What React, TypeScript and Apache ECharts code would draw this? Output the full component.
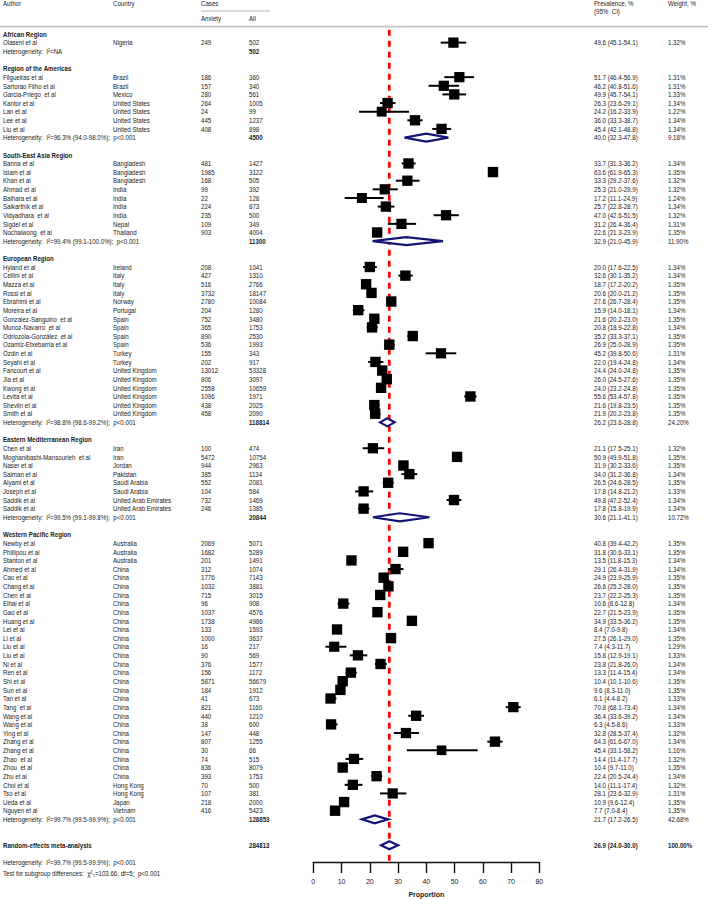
import React, { useEffect, useRef } from "react";
import * as echarts from "echarts";

// ---------------- DATA ----------------
const regionNames = [
  "African Region",
  "Region of the Americas",
  "South-East Asia Region",
  "European Region",
  "Eastern Mediterranean Region",
  "Western Pacific Region",
];
const regionHetText = [
  "Heterogeneity:  I²=NA",
  "Heterogeneity:  I²=96.3% (94.0-98.0%);  p<0.001",
  "Heterogeneity:  I²=99.4% (99.1-100.0%);  p<0.001",
  "Heterogeneity:  I²=98.8% (98.6-99.2%);  p<0.001",
  "Heterogeneity:  I²=99.5% (99.1-99.8%);  p<0.001",
  "Heterogeneity:  I²=99.7% (99.5-99.9%);  p<0.001",
];
const regionTotals = [502, 4500, 11300, 118814, 20844, 128853];
const regionPrev = [null, 40.0, 32.9, 26.2, 30.6, 21.7];
const regionLower = [null, 32.3, 21.0, 23.6, 21.1, 17.2];
const regionUpper = [null, 47.8, 45.9, 28.8, 41.1, 26.5];
const regionWeight = [null, 9.18, 11.9, 24.2, 10.72, 42.68];

const studyRegion = [
  0,
  1, 1, 1, 1, 1, 1, 1,
  2, 2, 2, 2, 2, 2, 2, 2, 2,
  3, 3, 3, 3, 3, 3, 3, 3, 3, 3, 3, 3, 3, 3, 3, 3, 3, 3,
  4, 4, 4, 4, 4, 4, 4, 4,
  5, 5, 5, 5, 5, 5, 5, 5, 5, 5, 5, 5, 5, 5, 5, 5, 5, 5, 5, 5, 5, 5, 5, 5, 5, 5, 5, 5, 5, 5, 5, 5,
];
const studyAuthor = [
  "Olaseni et al",
  "Filgueiras et al", "Sartorao Filho et al", "Garcia-Priego  et al", "Kantor et al", "Lan et al", "Lee et al", "Liu et al",
  "Banna et al", "Islam et al", "Khan et al", "Ahmad et al", "Balhara et al", "Saikarthik et al", "Vidyadhara  et al", "Sigdel et al", "Nochaiwong  et al",
  "Hyland et al", "Cellini et al", "Mazza et al", "Rossi et al", "Ebrahimi et al", "Moreira et al", "González-Sanguino  et al", "Munoz-Navarro  et al", "Odriozola-González  et al", "Ozamiz-Etxebarria et al", "Özdin et al", "Seyahi et al", "Fancourt et al", "Jia et al", "Kwong et al", "Levita et al", "Shevlin et al", "Smith et al",
  "Chen et al", "Moghanibashi-Mansourieh  et al", "Naser et al", "Salman et al", "Alyami et al", "Joseph et al", "Saddik et al", "Saddik et al",
  "Newby et al", "Phillipou et al", "Stanton et al", "Ahmed et al", "Cao et al", "Chang et al", "Chen et al", "Elhai et al", "Gao et al", "Huang et al", "Lei et al", "Li et al", "Liu et al", "Liu et al", "Ni et al", "Ren et al", "Shi et al", "Sun et al", "Tan et al", "Tang  et al", "Wang et al", "Wang et al", "Ying et al", "Zhang et al", "Zhang et al", "Zhao  et al", "Zhou  et al", "Zhu et al", "Choi et al", "Tso et al", "Ueda et al", "Nguyen et al",
];
const studyCountry = [
  "Nigeria",
  "Brazil", "Brazil", "Mexico", "United States", "United States", "United States", "United States",
  "Bangladesh", "Bangladesh", "Bangladesh", "India", "India", "India", "India", "Nepal", "Thailand",
  "Ireland", "Italy", "Italy", "Italy", "Norway", "Portugal", "Spain", "Spain", "Spain", "Spain", "Turkey", "Turkey", "United Kingdom", "United Kingdom", "United Kingdom", "United Kingdom", "United Kingdom", "United Kingdom",
  "Iran", "Iran", "Jordan", "Pakistan", "Saudi Arabia", "Saudi Arabia", "United Arab Emirates", "United Arab Emirates",
  "Australia", "Australia", "Australia", "China", "China", "China", "China", "China", "China", "China", "China", "China", "China", "China", "China", "China", "China", "China", "China", "China", "China", "China", "China", "China", "China", "China", "China", "China", "Hong Kong", "Hong Kong", "Japan", "Vietnam",
];
const anxietyCases = [
  249,
  186, 157, 280, 264, 24, 445, 408,
  481, 1985, 168, 99, 22, 224, 235, 109, 903,
  208, 427, 516, 3732, 2780, 204, 752, 365, 890, 536, 155, 202, 13012, 806, 2558, 1096, 438, 458,
  100, 5472, 944, 385, 552, 104, 732, 246,
  2069, 1682, 201, 312, 1776, 1032, 715, 96, 1037, 1738, 133, 1000, 16, 90, 376, 156, 5871, 184, 41, 821, 440, 38, 147, 807, 30, 74, 836, 393, 70, 107, 218, 416,
];
const totalCases = [
  502,
  360, 340, 561, 1005, 99, 1237, 898,
  1427, 3122, 505, 392, 128, 873, 500, 349, 4004,
  1041, 1310, 2766, 18147, 10084, 1280, 3480, 1753, 2530, 1993, 343, 917, 53328, 3097, 10659, 1971, 2025, 2090,
  474, 10754, 2963, 1134, 2081, 584, 1469, 1385,
  5071, 5289, 1491, 1074, 7143, 3881, 3015, 908, 4576, 4986, 1593, 3637, 217, 569, 1577, 1172, 56679, 1912, 673, 1160, 1210, 600, 448, 1255, 66, 515, 8079, 1753, 500, 381, 2000, 5423,
];
const prevalence = [
  49.6,
  51.7, 46.2, 49.9, 26.3, 24.2, 36.0, 45.4,
  33.7, 63.6, 33.3, 25.3, 17.2, 25.7, 47.0, 31.2, 22.6,
  20.0, 32.6, 18.7, 20.6, 27.6, 15.9, 21.6, 20.8, 35.2, 26.9, 45.2, 22.0, 24.4, 26.0, 24.0, 55.6, 21.6, 21.9,
  21.1, 50.9, 31.9, 34.0, 26.5, 17.8, 49.8, 17.8,
  40.8, 31.8, 13.5, 29.1, 24.9, 26.6, 23.7, 10.6, 22.7, 34.9, 8.4, 27.5, 7.4, 15.8, 23.8, 13.3, 10.4, 9.6, 6.1, 70.8, 36.4, 6.3, 32.8, 64.3, 45.4, 14.4, 10.4, 22.4, 14.0, 28.1, 10.9, 7.7,
];
const ciLower = [
  45.1,
  46.4, 40.8, 45.7, 23.6, 16.2, 33.3, 42.1,
  31.3, 61.9, 29.2, 21.0, 11.1, 22.8, 42.6, 26.4, 21.3,
  17.6, 30.1, 17.2, 20.0, 26.7, 14.0, 20.2, 18.9, 33.3, 25.0, 39.8, 19.4, 24.0, 24.5, 23.2, 53.4, 19.8, 20.2,
  17.5, 49.9, 30.2, 31.2, 24.6, 14.8, 47.2, 15.8,
  39.4, 30.6, 11.8, 26.4, 23.9, 25.2, 22.2, 8.6, 21.5, 33.5, 7.0, 26.1, 4.3, 12.9, 21.8, 11.4, 10.1, 8.3, 4.4, 68.1, 33.6, 4.5, 28.5, 61.6, 33.1, 11.4, 9.7, 20.5, 11.1, 23.6, 9.6, 7.0,
];
const ciUpper = [
  54.1,
  56.9, 51.6, 54.1, 29.1, 33.9, 38.7, 48.8,
  36.2, 65.3, 37.6, 29.9, 24.9, 28.7, 51.5, 36.4, 23.9,
  22.5, 35.2, 20.2, 21.2, 28.4, 18.1, 23.0, 22.8, 37.1, 28.9, 50.6, 24.8, 24.8, 27.6, 24.8, 57.8, 23.5, 23.8,
  25.1, 51.8, 33.6, 36.8, 28.5, 21.2, 52.4, 19.9,
  42.2, 33.1, 15.3, 31.9, 25.9, 28.0, 25.3, 12.8, 23.9, 36.2, 9.8, 29.0, 11.7, 19.1, 26.0, 15.4, 10.6, 11.0, 8.2, 73.4, 39.2, 8.6, 37.4, 67.0, 58.2, 17.7, 11.0, 24.4, 17.4, 32.9, 12.4, 8.4,
];
const weightPct = [
  1.32,
  1.31, 1.31, 1.33, 1.34, 1.22, 1.34, 1.34,
  1.34, 1.35, 1.32, 1.32, 1.24, 1.34, 1.32, 1.31, 1.35,
  1.34, 1.34, 1.35, 1.35, 1.35, 1.34, 1.35, 1.34, 1.35, 1.35, 1.31, 1.34, 1.35, 1.35, 1.35, 1.35, 1.35, 1.35,
  1.32, 1.35, 1.35, 1.34, 1.35, 1.33, 1.34, 1.34,
  1.35, 1.35, 1.34, 1.34, 1.35, 1.35, 1.35, 1.34, 1.35, 1.35, 1.34, 1.35, 1.29, 1.33, 1.34, 1.34, 1.35, 1.35, 1.33, 1.34, 1.34, 1.33, 1.32, 1.34, 1.16, 1.32, 1.35, 1.34, 1.32, 1.31, 1.35, 1.35,
];

const overallLabel = "Random-effects meta-analysis";
const overallTotal = 284813;
const overallPrev = 26.9;
const overallLower = 24.0;
const overallUpper = 30.0;
const overallWeight = 100.0;
const overallHetText = "Heterogeneity:  I²=99.7% (99.5-99.9%);  p<0.001";
const subgroupTestText = "Test for subgroup differences:  χ²₅=103.66, df=5;  p<0.001";
const axisTicks = [0, 10, 20, 30, 40, 50, 60, 70, 80];
const axisTitle = "Proportion";

// ---------------- LAYOUT ----------------
const W = 708;
const H = 899;
const ROW_H = 8.63;
const Y0 = 34; // pixel centre of slot 0
const PLOT_LEFT = 313.3;
const PLOT_RIGHT = 539.3;
const AXIS_Y = 862;
const FONT = "'Liberation Sans', Arial, sans-serif";
const FS = 7.5;
const SX = 0.82; // horizontal squeeze to mimic a narrow typeface
const COL = { author: 3, country: 113, anx: 201, all: 249, prev: 594, weight: 668 };
const TXT = "#1a1a1a";
const DIAMOND = "#141478";

const fmtCI = (p: number, l: number, u: number) =>
  `${p.toFixed(1)} (${l.toFixed(1)}-${u.toFixed(1)})`;
const fmtW = (w: number) => `${w.toFixed(2)}%`;

type Cell = { x: number; text: string; bold?: boolean };
type Row = { slot: number; cells: Cell[] };

function buildRows() {
  const rows: Row[] = [];
  const squares: number[][] = [];
  const diamonds: number[][] = [];
  let slot = 0;
  regionNames.forEach((name, r) => {
    rows.push({ slot, cells: [{ x: COL.author, text: name, bold: true }] });
    slot++;
    studyRegion.forEach((sr, i) => {
      if (sr !== r) return;
      rows.push({
        slot,
        cells: [
          { x: COL.author, text: studyAuthor[i] },
          { x: COL.country, text: studyCountry[i] },
          { x: COL.anx, text: String(anxietyCases[i]) },
          { x: COL.all, text: String(totalCases[i]) },
          { x: COL.prev, text: fmtCI(prevalence[i], ciLower[i], ciUpper[i]) },
          { x: COL.weight, text: fmtW(weightPct[i]) },
        ],
      });
      squares.push([prevalence[i], slot, ciLower[i], ciUpper[i], weightPct[i]]);
      slot++;
    });
    const cells: Cell[] = [
      { x: COL.author, text: regionHetText[r] },
      { x: COL.all, text: String(regionTotals[r]), bold: true },
    ];
    const p = regionPrev[r];
    if (p !== null) {
      cells.push({ x: COL.prev, text: fmtCI(p, regionLower[r] as number, regionUpper[r] as number) });
      cells.push({ x: COL.weight, text: fmtW(regionWeight[r] as number) });
      diamonds.push([p, slot, regionLower[r] as number, regionUpper[r] as number]);
    }
    rows.push({ slot, cells });
    slot += 2;
  });
  slot += 1;
  rows.push({
    slot,
    cells: [
      { x: COL.author, text: overallLabel, bold: true },
      { x: COL.all, text: String(overallTotal), bold: true },
      { x: COL.prev, text: fmtCI(overallPrev, overallLower, overallUpper), bold: true },
      { x: COL.weight, text: fmtW(overallWeight), bold: true },
    ],
  });
  diamonds.push([overallPrev, slot, overallLower, overallUpper]);
  rows.push({ slot: slot + 2, cells: [{ x: COL.author, text: overallHetText }] });
  rows.push({ slot: slot + 3.3, cells: [{ x: COL.author, text: subgroupTestText }] });
  return { rows, squares, diamonds };
}

const textEl = (x: number, y: number, text: string, bold = false) => ({
  type: "text",
  x,
  y,
  scaleX: SX,
  style: {
    text,
    fill: TXT,
    fontSize: FS,
    fontFamily: FONT,
    fontWeight: bold ? "bold" : "normal",
    align: "left",
    verticalAlign: "middle",
  },
});

export default function App() {
  const ref = useRef<HTMLDivElement>(null);
  useEffect(() => {
    if (!ref.current) return;
    const chart = echarts.init(ref.current, null, { renderer: "svg", width: W, height: H });
    const { rows, squares, diamonds } = buildRows();
    const slotMin = -Y0 / ROW_H;
    const slotMax = (H - Y0) / ROW_H;
    const axisSlot = (AXIS_Y - Y0) / ROW_H;

    chart.setOption({
      animation: false,
      backgroundColor: "#ffffff",
      grid: [
        { left: PLOT_LEFT, right: W - PLOT_RIGHT, top: 0, bottom: 0 },
        { left: PLOT_LEFT, right: W - PLOT_RIGHT, top: AXIS_Y - 1, height: 1 },
      ],
      xAxis: [
        { type: "value", gridIndex: 0, min: 0, max: 80, show: false },
        {
          type: "value",
          gridIndex: 1,
          min: 0,
          max: 80,
          interval: 10,
          position: "bottom",
          axisLine: { show: true, lineStyle: { color: "#111", width: 1.4 } },
          axisTick: { show: true, length: 11, lineStyle: { color: "#111", width: 1.4 } },
          splitLine: { show: false },
          axisLabel: {
            margin: 16,
            fontSize: 7,
            fontFamily: FONT,
            color: TXT,
            formatter: (v: number) => (axisTicks.includes(v) ? String(v) : ""),
          },
          name: axisTitle,
          nameLocation: "middle",
          nameGap: 29,
          nameTextStyle: { fontSize: 7, fontFamily: FONT, color: TXT, fontWeight: "bold" },
        },
      ],
      yAxis: [
        { type: "value", gridIndex: 0, min: slotMin, max: slotMax, inverse: true, show: false },
        { type: "value", gridIndex: 1, min: 0, max: 1, show: false },
      ],
      graphic: [
        textEl(COL.author, 3.5, "Author"),
        textEl(COL.country, 3.5, "Country"),
        textEl(COL.anx, 3.5, "Cases"),
        textEl(COL.anx, 18.5, "Anxiety"),
        textEl(COL.all, 18.5, "All"),
        textEl(COL.prev, 3.2, "Prevalence, %"),
        textEl(COL.prev, 11.2, "(95%  CI)"),
        textEl(COL.weight, 3.5, "Weight, %"),
        { type: "line", shape: { x1: COL.anx, y1: 11, x2: 270, y2: 11 }, style: { stroke: "#b5b5b5", lineWidth: 1.2 } },
        { type: "line", shape: { x1: 0, y1: 26.7, x2: W, y2: 26.7 }, style: { stroke: "#c4c4c4", lineWidth: 1.8 } },
      ],
      series: [
        {
          type: "custom",
          coordinateSystem: "cartesian2d",
          xAxisIndex: 0,
          yAxisIndex: 0,
          clip: false,
          silent: true,
          data: rows.map((r) => [0, r.slot]),
          renderItem: (params: any, api: any) => {
            const row = rows[params.dataIndex];
            const y = api.coord([0, api.value(1)])[1];
            return {
              type: "group",
              children: row.cells.map((c) => textEl(c.x, y, c.text, c.bold)),
            };
          },
        },
        {
          type: "custom",
          coordinateSystem: "cartesian2d",
          xAxisIndex: 0,
          yAxisIndex: 0,
          clip: false,
          silent: true,
          data: [[overallPrev]],
          renderItem: (params: any, api: any) => {
            const a = api.coord([api.value(0), -0.5]);
            const b = api.coord([api.value(0), axisSlot]);
            return {
              type: "line",
              shape: { x1: a[0], y1: a[1], x2: b[0], y2: b[1] },
              style: { stroke: "#ff0000", lineWidth: 2.7, lineDash: [6, 5] },
            };
          },
        },
        {
          type: "custom",
          coordinateSystem: "cartesian2d",
          xAxisIndex: 0,
          yAxisIndex: 0,
          clip: false,
          silent: true,
          data: squares,
          renderItem: (params: any, api: any) => {
            const c = api.coord([api.value(0), api.value(1)]);
            const l = api.coord([api.value(2), api.value(1)]);
            const r = api.coord([api.value(3), api.value(1)]);
            const s = 10.4 * Math.sqrt(api.value(4) / 1.35);
            return {
              type: "group",
              children: [
                { type: "line", shape: { x1: l[0], y1: c[1], x2: r[0], y2: c[1] }, style: { stroke: "#000", lineWidth: 2 } },
                { type: "rect", shape: { x: c[0] - s / 2, y: c[1] - s / 2, width: s, height: s }, style: { fill: "#000" } },
              ],
            };
          },
        },
        {
          type: "custom",
          coordinateSystem: "cartesian2d",
          xAxisIndex: 0,
          yAxisIndex: 0,
          clip: false,
          silent: true,
          data: diamonds,
          renderItem: (params: any, api: any) => {
            const c = api.coord([api.value(0), api.value(1)]);
            const l = api.coord([api.value(2), api.value(1)]);
            const r = api.coord([api.value(3), api.value(1)]);
            const h = 4;
            return {
              type: "polygon",
              shape: { points: [[l[0], c[1]], [c[0], c[1] - h], [r[0], c[1]], [c[0], c[1] + h]] },
              style: { fill: "#ffffff", stroke: DIAMOND, lineWidth: 2.2 },
            };
          },
        },
      ],
    });
    return () => chart.dispose();
  }, []);
  return <div ref={ref} style={{ position: "absolute", left: 0, top: 0, width: W, height: H }} />;
}
